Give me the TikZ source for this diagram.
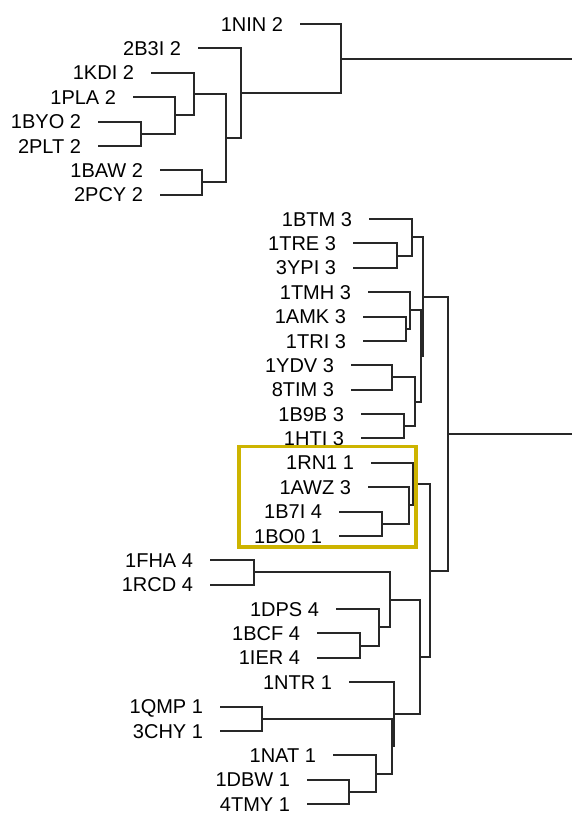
\documentclass[tikz,border=0pt]{standalone}
\usepackage{fontspec}
\setmainfont{Liberation Sans}
\definecolor{treeline}{RGB}{40,40,40}
\definecolor{hiyellow}{RGB}{205,180,0}
\begin{document}
\begin{tikzpicture}[
x=1pt,y=-1pt,
lab/.style={anchor=east,inner sep=0pt,outer xsep=17pt,text height=14.4pt,text depth=0pt,font=\fontsize{20}{24}\selectfont},
br/.style={draw=treeline,line width=2pt},
hilite/.style={draw=hiyellow,line width=3.5pt}
]
\useasboundingbox (0,0) rectangle (572,814);
% leaves
\node[lab] (nin) at (300,24) {1NIN 2};
\node[lab] (b3i) at (198,48.4) {2B3I 2};
\node[lab] (kdi) at (151,72.75) {1KDI 2};
\node[lab] (pla) at (133,97.1) {1PLA 2};
\node[lab] (byo) at (98,121.5) {1BYO 2};
\node[lab] (plt) at (98,145.9) {2PLT 2};
\node[lab] (baw) at (160,170.25) {1BAW 2};
\node[lab] (pcy) at (160,194.6) {2PCY 2};
\node[lab] (btm) at (369,219) {1BTM 3};
\node[lab] (tre) at (353,243.4) {1TRE 3};
\node[lab] (ypi) at (353,267.75) {3YPI 3};
\node[lab] (tmh) at (368,292.1) {1TMH 3};
\node[lab] (amk) at (363,316.5) {1AMK 3};
\node[lab] (tri) at (363,340.9) {1TRI 3};
\node[lab] (ydv) at (351,365.25) {1YDV 3};
\node[lab] (tim) at (351,389.6) {8TIM 3};
\node[lab] (b9b) at (361,414) {1B9B 3};
\node[lab] (hti) at (361,438.4) {1HTI 3};
\node[lab] (rn1) at (371,462.75) {1RN1 1};
\node[lab] (awz) at (368,487.1) {1AWZ 3};
\node[lab] (b7i) at (339,511.5) {1B7I 4};
\node[lab] (bo0) at (339,535.9) {1BO0 1};
\node[lab] (fha) at (210,560.25) {1FHA 4};
\node[lab] (rcd) at (210,584.6) {1RCD 4};
\node[lab] (dps) at (336,609) {1DPS 4};
\node[lab] (bcf) at (317,633.4) {1BCF 4};
\node[lab] (ier) at (317,657.75) {1IER 4};
\node[lab] (ntr) at (349,682.1) {1NTR 1};
\node[lab] (qmp) at (220,706.5) {1QMP 1};
\node[lab] (chy) at (220,730.9) {3CHY 1};
\node[lab] (nat) at (333,755.25) {1NAT 1};
\node[lab] (dbw) at (307,779.6) {1DBW 1};
\node[lab] (tmy) at (307,804) {4TMY 1};
% joins, upper tree
\coordinate (j1) at (141,133.7);
\coordinate (j2) at (175,115.4);
\coordinate (j3) at (194,94.1);
\coordinate (j4) at (202,182.4);
\coordinate (j5) at (226,138.3);
\coordinate (j6) at (241,93.3);
\coordinate (j7) at (341,58.7);
\coordinate (r1) at (572,58.7);
% joins, lower tree
\coordinate (j8) at (397,255.6);
\coordinate (j9) at (412,237.3);
\coordinate (j10) at (406,328.7);
\coordinate (j11) at (410,310.4);
\coordinate (j12) at (392,377.4);
\coordinate (j13) at (404,426.2);
\coordinate (j14) at (415,401.8);
\coordinate (j15) at (420.5,356.1);
\coordinate (j16) at (422.5,296.7);
\coordinate (j17) at (382,523.7);
\coordinate (j18) at (409,505.4);
\coordinate (j19) at (413,484.1);
\coordinate (j20) at (254,572.4);
\coordinate (j21) at (360,645.6);
\coordinate (j22) at (379,627.3);
\coordinate (j23) at (390,599.9);
\coordinate (j24) at (349,791.8);
\coordinate (j25) at (376,773.5);
\coordinate (j26) at (262,718.7);
\coordinate (j27) at (391.5,746.1);
\coordinate (j28) at (393.5,714.1);
\coordinate (j29) at (420,657);
\coordinate (j30) at (429.5,570.6);
\coordinate (j31) at (448,433.7);
\coordinate (r2) at (572,433.7);

\draw[br] (byo) -| (j1) |- (plt);
\draw[br] (pla) -| (j2) |- (j1);
\draw[br] (kdi) -| (j3) |- (j2);
\draw[br] (baw) -| (j4) |- (pcy);
\draw[br] (j3) -| (j5) |- (j4);
\draw[br] (b3i) -| (j6) |- (j5);
\draw[br] (nin) -| (j7) |- (j6);
\draw[br] (j7) -- (r1);

\draw[br] (tre) -| (j8) |- (ypi);
\draw[br] (btm) -| (j9) |- (j8);
\draw[br] (amk) -| (j10) |- (tri);
\draw[br] (tmh) -| (j11) |- (j10);
\draw[br] (ydv) -| (j12) |- (tim);
\draw[br] (b9b) -| (j13) |- (hti);
\draw[br] (j12) -| (j14) |- (j13);
\draw[br] (j11) -| (j15) |- (j14);
\draw[br] (j9) -| (j16) |- (j15);
\draw[br] (b7i) -| (j17) |- (bo0);
\draw[br] (awz) -| (j18) |- (j17);
\draw[br] (rn1) -| (j19) |- (j18);
\draw[br] (fha) -| (j20) |- (rcd);
\draw[br] (bcf) -| (j21) |- (ier);
\draw[br] (dps) -| (j22) |- (j21);
\draw[br] (j20) -| (j23) |- (j22);
\draw[br] (dbw) -| (j24) |- (tmy);
\draw[br] (nat) -| (j25) |- (j24);
\draw[br] (qmp) -| (j26) |- (chy);
\draw[br] (j26) -| (j27) |- (j25);
\draw[br] (ntr) -| (j28) |- (j27);
\draw[br] (j23) -| (j29) |- (j28);
\draw[br] (j19) -| (j30) |- (j29);
\draw[br] (j16) -| (j31) |- (j30);
\draw[br] (j31) -- (r2);

\draw[hilite] (239,446.5) rectangle (416,547);
\end{tikzpicture}
\end{document}
